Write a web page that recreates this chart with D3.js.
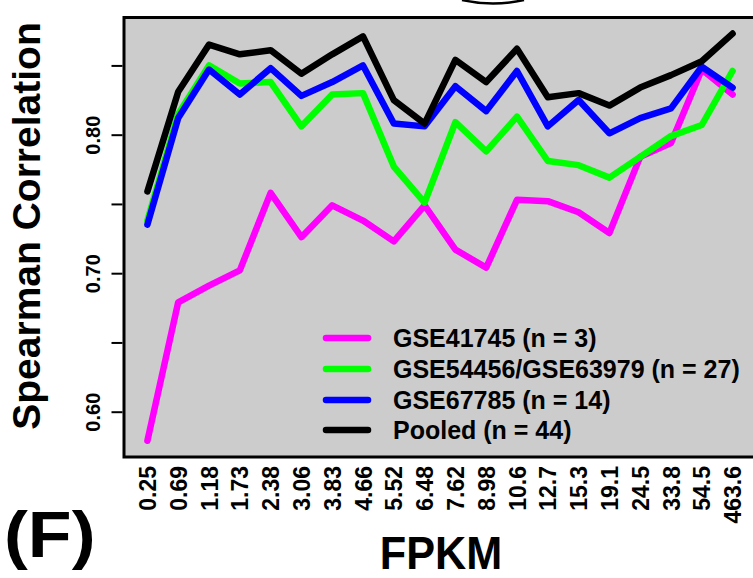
<!DOCTYPE html>
<html><head><meta charset="utf-8">
<script src="https://cdn.jsdelivr.net/npm/d3@7"></script>
<style>
html,body{margin:0;padding:0;background:#fff;}
svg{display:block;font-family:"Liberation Sans",Arial,sans-serif;font-weight:bold;}
</style></head>
<body>
<svg id="chart" width="753" height="578"></svg>
<script>
const categories = ["0.25","0.69","1.18","1.73","2.38","3.06","3.83","4.66","5.52","6.48","7.62","8.98","10.6","12.7","15.3","19.1","24.5","33.8","54.5","463.6"];
const gse41745 = [0.579,0.679,0.691,0.702,0.758,0.726,0.749,0.738,0.723,0.749,0.717,0.704,0.753,0.752,0.744,0.729,0.784,0.794,0.847,0.829];
const gse54456 = [0.738,0.815,0.850,0.837,0.838,0.806,0.829,0.830,0.777,0.751,0.809,0.788,0.813,0.781,0.778,0.769,0.784,0.799,0.807,0.846];
const gse67785 = [0.735,0.812,0.847,0.829,0.848,0.828,0.838,0.850,0.808,0.806,0.835,0.817,0.846,0.806,0.825,0.801,0.812,0.819,0.849,0.834];
const pooled   = [0.759,0.831,0.865,0.858,0.861,0.844,0.858,0.871,0.825,0.808,0.854,0.838,0.862,0.827,0.830,0.821,0.834,0.843,0.853,0.873];
const seriesNames = ["GSE41745 (n = 3)","GSE54456/GSE63979 (n = 27)","GSE67785 (n = 14)","Pooled (n = 44)"];
const seriesColors = ["#FF00FF","#00FF00","#0000FF","#000000"];
const yTicks = [0.60,0.65,0.70,0.75,0.80,0.85];
const yTickLabels = ["0.60","","0.70","","0.80",""];

const svg = d3.select("#chart");
const L = 124, R = 756, T = 17.5, B = 457;
const n = categories.length;
const x = d3.scaleLinear().domain([1 - 0.04*(n-1), n + 0.04*(n-1)]).range([L, R]);
const y = d3.scaleLinear().domain([0.5673, 0.8846]).range([B, T]);

svg.append("rect").attr("x", L).attr("y", T).attr("width", R-L).attr("height", B-T)
  .attr("fill", "#cccccc");

const series = [gse41745, gse54456, gse67785, pooled];
const line = d3.line().x((d,i)=>x(i+1)).y(d=>y(d));
series.forEach((s,k)=>{
  svg.append("path").datum(s).attr("d", line).attr("fill","none")
    .attr("stroke", seriesColors[k]).attr("stroke-width", 6.5)
    .attr("stroke-linejoin","round").attr("stroke-linecap","round");
});

svg.append("rect").attr("x", L).attr("y", T).attr("width", R-L).attr("height", B-T)
  .attr("fill", "none").attr("stroke","#000").attr("stroke-width",3);

// y axis
const yAxis = d3.axisLeft(y).tickValues(yTicks).tickSize(11).tickFormat((d,i)=>yTickLabels[i]);
const gy = svg.append("g").attr("transform", `translate(${L-1.5},0)`).call(yAxis);
gy.select(".domain").remove();
gy.selectAll(".tick line").attr("stroke","#000").attr("stroke-width",2);
gy.selectAll(".tick text").attr("font-size",20).attr("font-weight","bold").attr("fill","#000")
  .attr("text-anchor","middle").attr("x",0).attr("y",0).attr("dy","0.35em")
  .attr("transform","translate(-30,0) rotate(-90)");

// x axis labels
const xAxis = d3.axisBottom(x).tickValues(d3.range(1,n+1)).tickSize(0).tickFormat((d)=>categories[d-1]);
const gx = svg.append("g").attr("transform", `translate(0,${B})`).call(xAxis);
gx.select(".domain").remove();
gx.selectAll(".tick text").attr("font-size",23).attr("font-weight","bold").attr("fill","#000")
  .attr("text-anchor","end").attr("x",0).attr("y",0).attr("dy","0.35em")
  .attr("transform","translate(0,9) rotate(-90)");

// axis titles
svg.append("text").attr("transform", `translate(40,226) rotate(-90)`)
  .attr("text-anchor","middle").attr("font-size",39).attr("fill","#000").text("Spearman Correlation");
svg.append("text").attr("transform", "translate(441,569) scale(0.92,1)").attr("text-anchor","middle")
  .attr("font-size",47).attr("fill","#000").text("FPKM");
svg.append("text").attr("transform", "translate(4,557) scale(1.12,1)").attr("font-size",64)
  .attr("fill","#000").text("(F)");

// legend
const lg = svg.append("g");
const rowY = [338, 369, 400, 430];
seriesNames.forEach((nm,k)=>{
  lg.append("line").attr("x1",326).attr("x2",368).attr("y1",rowY[k]).attr("y2",rowY[k])
    .attr("stroke",seriesColors[k]).attr("stroke-width",6.5).attr("stroke-linecap","round");
  lg.append("text").attr("x",393).attr("y",rowY[k]).attr("dy","0.35em")
    .attr("font-size",25).attr("fill","#000").text(nm);
});

// fragment of a cropped element above the panel
svg.append("path").attr("d","M462,0 Q493,7 524,0").attr("fill","none").attr("stroke","#000").attr("stroke-width",2.5);
</script>
</body></html>
